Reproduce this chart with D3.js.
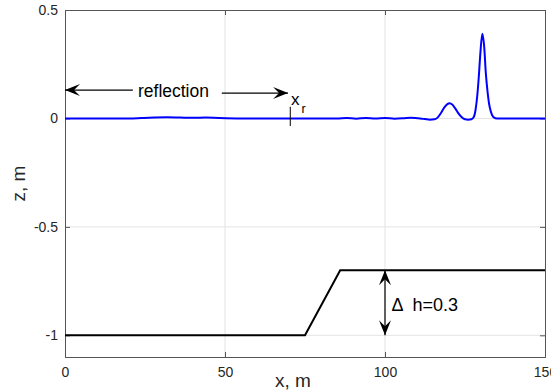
<!DOCTYPE html>
<html>
<head>
<meta charset="utf-8">
<script src="https://cdnjs.cloudflare.com/ajax/libs/d3/7.8.5/d3.min.js"></script>
<style>
  body { margin: 0; background: #fff; }
  svg { font-family: "Liberation Sans", Arial, sans-serif; }
  .tick text { fill: #262626; font-size: 14px; }
</style>
</head>
<body>
<div id="chart"></div>
<script>
// free surface elevation
const waveX = [0, 10, 20, 24, 28, 32, 36, 40, 44, 48, 55, 65, 75, 85, 88, 91, 94, 97, 100, 103, 106, 108, 109.5, 111,
  112.5, 114, 115.5, 116.5, 117.5, 118.5, 119.5, 120.2, 121, 122, 123, 124, 125, 126, 127, 127.7, 128.3,
  128.8, 129.3, 129.8, 130.4, 131, 131.5, 132, 132.5, 133, 133.5, 134, 135, 140, 150];
const waveZ = [0, 0, 0, 0.002, 0.004, 0.005, 0.004, 0.003, 0.004, 0.002, 0, 0, 0, 0, 0.002, -0.001, 0.002, 0, 0.002, -0.001, 0.001, 0.003, 0.002, 0,
  -0.003, -0.006, -0.004, 0.005, 0.025, 0.05, 0.066, 0.07, 0.064, 0.045, 0.022, 0.005, -0.004, -0.006, -0.004, 0.005, 0.04,
  0.1, 0.19, 0.3, 0.39, 0.33, 0.21, 0.13, 0.07, 0.035, 0.015, 0.005, 0, 0, 0];

// bottom profile
const bedX = [0, 75, 86, 150];
const bedZ = [-1, -1, -0.7, -0.7];

const xTicks = [0, 50, 100, 150];
const yTicks = [-1, -0.5, 0, 0.5];

// annotations (data coords)
const xr = 70.4;
const reflArrowLeft = { x1: 21.2, x0: 0, z: 0.131 };
const reflArrowRight = { x0: 49, x1: 69.7, z: 0.117 };
const stepX = 100, dh = 0.3;

const W = 551, H = 390;
const m = { left: 65, top: 10, right: 6, bottom: 33 };
const iw = W - m.left - m.right, ih = H - m.top - m.bottom;

const svg = d3.select('#chart').append('svg').attr('width', W).attr('height', H);
const g = svg.append('g').attr('transform', `translate(${m.left},${m.top})`);

const x = d3.scaleLinear().domain([0, 150]).range([0, iw]);
const y = d3.scaleLinear().domain([-1.1, 0.5]).range([ih, 0]);

// grid
g.append('g').selectAll('line').data(xTicks.slice(1, -1)).join('line')
  .attr('x1', d => x(d)).attr('x2', d => x(d)).attr('y1', 0).attr('y2', ih)
  .attr('stroke', '#e3e3e3').attr('stroke-width', 1);
g.append('g').selectAll('line').data(yTicks.slice(0, -1)).join('line')
  .attr('y1', d => y(d)).attr('y2', d => y(d)).attr('x1', 0).attr('x2', iw)
  .attr('stroke', '#e3e3e3').attr('stroke-width', 1);

// axes
const ax = g.append('g').attr('transform', `translate(0,${ih})`)
  .call(d3.axisBottom(x).tickValues(xTicks).tickSize(-5).tickPadding(10).tickFormat(d3.format('d')));
const ay = g.append('g')
  .call(d3.axisLeft(y).tickValues(yTicks).tickSize(-5).tickPadding(7).tickFormat(d => d === 0 ? '0' : String(d)));
g.append('g')
  .call(d3.axisTop(x).tickValues(xTicks).tickSize(-5).tickFormat(''));
g.append('g').attr('transform', `translate(${iw},0)`)
  .call(d3.axisRight(y).tickValues(yTicks).tickSize(-5).tickFormat(''));
g.selectAll('.domain').attr('stroke', '#555').attr('stroke-width', 1);
g.selectAll('.tick line').attr('stroke', '#555');
ax.selectAll('.tick text').attr('font-size', 14);
ay.selectAll('.tick text').attr('font-size', 14);

// lines
const line = d3.line().x(d => x(d[0])).y(d => y(d[1]));
g.append('path').datum(bedX.map((d, i) => [d, bedZ[i]]))
  .attr('d', line).attr('fill', 'none').attr('stroke', '#000').attr('stroke-width', 2);
g.append('path').datum(waveX.map((d, i) => [d, waveZ[i]]))
  .attr('d', d3.line().curve(d3.curveMonotoneX).x(d => x(d[0])).y(d => y(d[1])))
  .attr('fill', 'none').attr('stroke', '#0000ff').attr('stroke-width', 2);

// arrows
function arrow(x0, y0, x1, y1, both) {
  g.append('line').attr('x1', x0).attr('y1', y0).attr('x2', x1).attr('y2', y1)
    .attr('stroke', '#000').attr('stroke-width', 1.2);
  const head = (tx, ty, ang) => {
    const L = 15, hw = 6, n = 9;
    const c = Math.cos(ang), s = Math.sin(ang);
    const p = (a, b) => [tx - a * c + b * -s, ty - a * s + b * c];
    const pts = [[tx, ty], p(L, hw), p(n, 0), p(L, -hw)];
    g.append('path').attr('d', 'M' + pts.join('L') + 'Z').attr('fill', '#000');
  };
  head(x1, y1, Math.atan2(y1 - y0, x1 - x0));
  if (both) head(x0, y0, Math.atan2(y0 - y1, x0 - x1));
}
arrow(x(reflArrowLeft.x1), y(reflArrowLeft.z), x(reflArrowLeft.x0), y(reflArrowLeft.z));
arrow(x(reflArrowRight.x0), y(reflArrowRight.z), x(reflArrowRight.x1), y(reflArrowRight.z));
arrow(x(stepX), y(-0.7), x(stepX), y(-0.7 - dh), true);

// x_r marker
g.append('line').attr('x1', x(xr)).attr('x2', x(xr)).attr('y1', y(0.054)).attr('y2', y(-0.035))
  .attr('stroke', '#000').attr('stroke-width', 1);

g.append('text').attr('x', x(22.8)).attr('y', y(0.1)).attr('font-size', 17.5).attr('fill', '#000').text('reflection');
g.append('text').attr('x', x(70.6)).attr('y', y(0.062)).attr('font-size', 17).attr('fill', '#000').text('x');
g.append('text').attr('x', x(73.9)).attr('y', y(0.026)).attr('font-size', 12.5).attr('fill', '#000').text('r');
g.append('text').attr('x', x(102)).attr('y', y(-0.887)).attr('font-size', 18).attr('fill', '#000')
  .attr('xml:space', 'preserve').text('\u0394  h=0.3');

// axis labels
svg.append('text').attr('x', 293).attr('y', 387).attr('text-anchor', 'middle')
  .attr('font-size', 19).attr('fill', '#262626').text('x, m');
svg.append('text').attr('transform', `translate(25,${m.top + ih / 2}) rotate(-90)`).attr('text-anchor', 'middle')
  .attr('font-size', 19).attr('fill', '#262626').text('z, m');
</script>
</body>
</html>
